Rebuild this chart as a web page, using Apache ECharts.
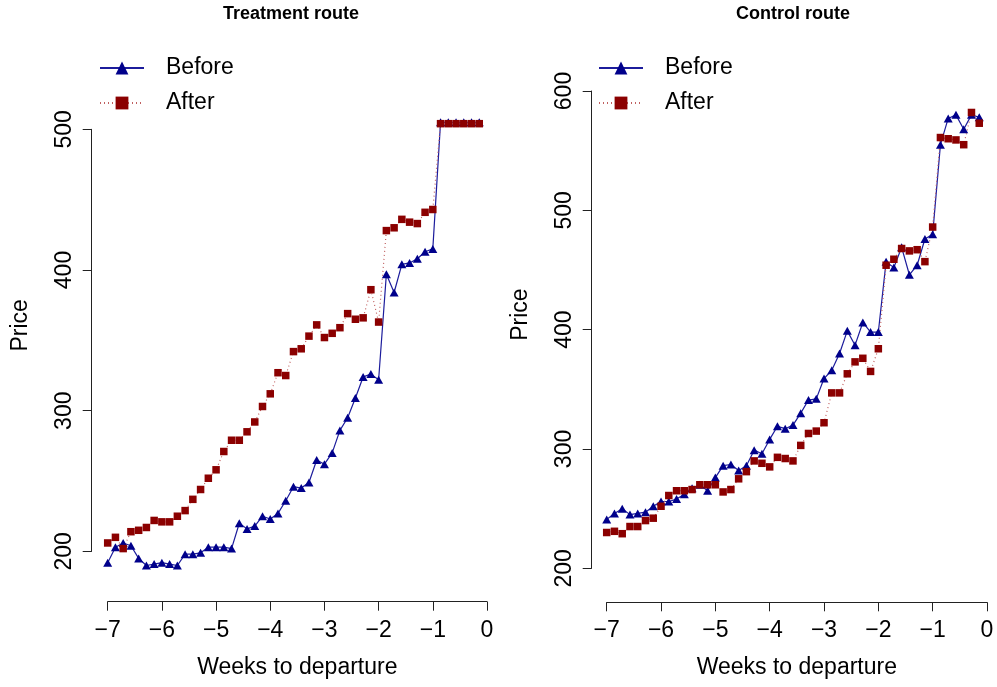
<!DOCTYPE html>
<html>
<head>
<meta charset="utf-8">
<script src="https://cdn.jsdelivr.net/npm/echarts@6.0.0/dist/echarts.min.js"></script>
<style>
    html, body { margin: 0; padding: 0; background: #fff; }
    #chart { width: 997px; height: 687px; }
</style>
</head>
<body>
<div id="chart"></div>
<script>
// days to departure (one observation per day)
const days = [-49, -48, -47, -46, -45, -44, -43, -42, -41, -40, -39, -38, -37, -36, -35,
    -34, -33, -32, -31, -30, -29, -28, -27, -26, -25, -24, -23, -22, -21, -20, -19, -18,
    -17, -16, -15, -14, -13, -12, -11, -10, -9, -8, -7, -6, -5, -4, -3, -2, -1]

// treatment route prices
const treatBefore = [192, 203, 206, 204, 195, 190, 191, 192, 191, 190, 198, 198, 199, 203, 203,
    203, 202, 220, 216, 218, 225, 223, 227, 236, 246, 245, 249, 265, 262, 270, 286, 295,
    309, 324, 326, 322, 397, 384, 404, 405, 408, 413, 415, 505, 505, 505, 505, 505, 505]
const treatAfter = [206, 210, 202, 214, 215, 217, 222, 221, 221, 225, 229, 237, 244, 252, 258,
    271, 279, 279, 285, 292, 303, 312, 327, 325, 342, 344, 353, 361, 352, 355, 359, 369,
    365, 366, 386, 363, 428, 430, 436, 434, 433, 441, 443, 504, 504, 504, 504, 504, 504]

// control route prices
const ctrlBefore = [241, 246, 250, 245, 246, 247, 252, 256, 256, 258, 262, 267, 270, 265, 276,
    286, 287, 282, 286, 299, 296, 308, 319, 317, 320, 330, 341, 342, 359, 366, 380, 399,
    387, 406, 398, 398, 457, 452, 469, 446, 454, 476, 480, 555, 577, 580, 568, 580, 578]
const ctrlAfter = [230, 231, 229, 235, 235, 240, 242, 252, 261, 265, 265, 266, 270, 270, 270,
    264, 266, 275, 281, 290, 288, 285, 293, 292, 290, 303, 313, 315, 322, 347, 347, 363,
    373, 376, 365, 384, 454, 459, 468, 466, 467, 457, 486, 561, 560, 559, 555, 582, 573]

const weekTicks = [-7, -6, -5, -4, -3, -2, -1, 0]

const FONT = 'Liberation Sans, Arial, Helvetica, sans-serif'
const BLUE = '#00008B'
const RED = '#8B0000'

function pairs (vals) {
    return vals.map(function (v, i) { return [days[i] / 7, v] })
}

function xAxisFor (idx, offset) {
    return {
        type: 'value', gridIndex: idx, min: weekTicks[0], max: weekTicks[weekTicks.length - 1],
        interval: 1, offset: offset,
        name: 'Weeks to departure', nameLocation: 'middle', nameGap: 54,
        nameTextStyle: { fontFamily: FONT, fontSize: 23, color: '#000' },
        axisLine: { show: true, onZero: false, lineStyle: { color: '#222', width: 1 } },
        axisTick: { show: true, length: 9, lineStyle: { color: '#222' } },
        axisLabel: {
            margin: 17, fontFamily: FONT, fontSize: 23, color: '#000',
            formatter: function (v) { return String(v).replace('-', '\u2212') }
        },
        splitLine: { show: false }
    }
}

function yAxisFor (idx, min, max, offset) {
    return {
        type: 'value', gridIndex: idx, min: min, max: max, interval: 100, offset: offset,
        name: 'Price', nameLocation: 'middle', nameGap: 60, nameRotate: 90,
        nameTextStyle: { fontFamily: FONT, fontSize: 23, color: '#000', padding: [0, 0, 0, 30] },
        axisLine: { show: true, onZero: false, lineStyle: { color: '#222', width: 1 } },
        axisTick: { show: true, length: 9, lineStyle: { color: '#222' } },
        axisLabel: { margin: 16, rotate: 90, fontFamily: FONT, fontSize: 23, color: '#000' },
        splitLine: { show: false }
    }
}

function seriesFor (idx, name, vals) {
    let before = name === 'Before'
    return {
        name: name, type: 'line', xAxisIndex: idx, yAxisIndex: idx,
        data: pairs(vals), clip: false,
        symbol: before ? 'triangle' : 'rect',
        symbolSize: before ? [9, 8] : 7.5,
        itemStyle: { color: before ? BLUE : RED },
        lineStyle: before
            ? { color: '#1c1c9c', width: 1.2 }
            : { color: '#c06060', width: 1.2, type: [1, 3] }
    }
}

function legendFor (left) {
    return {
        data: ['Before', 'After'], orient: 'vertical', left: left, top: 56, padding: 0,
        itemWidth: 44, itemHeight: 16, itemGap: 11,
        selectedMode: false,
        textStyle: { fontFamily: FONT, fontSize: 23, lineHeight: 24, color: '#000', padding: [0, 0, 0, 17] }
    }
}

let chart = echarts.init(document.getElementById('chart'), null, { renderer: 'canvas' })
chart.setOption({
    animation: false,
    backgroundColor: '#fff',
    title: [
        { text: 'Treatment route', left: 223, top: 5, padding: 0,
          textStyle: { fontFamily: FONT, fontSize: 18, fontWeight: 'bold', color: '#000' } },
        { text: 'Control route', left: 736, top: 5, padding: 0,
          textStyle: { fontFamily: FONT, fontSize: 18, fontWeight: 'bold', color: '#000' } }
    ],
    legend: [legendFor(99), legendFor(598)],
    grid: [
        { left: 107.7, right: 510, top: 129.3, bottom: 135.6 },
        { left: 606.7, right: 10, top: 91, bottom: 118.7 }
    ],
    xAxis: [xAxisFor(0, 50.3), xAxisFor(1, 34)],
    yAxis: [yAxisFor(0, 200, 500, 16), yAxisFor(1, 200, 600, 15)],
    series: [
        seriesFor(0, 'Before', treatBefore),
        seriesFor(0, 'After', treatAfter),
        seriesFor(1, 'Before', ctrlBefore),
        seriesFor(1, 'After', ctrlAfter)
    ]
})
</script>
</body>
</html>
